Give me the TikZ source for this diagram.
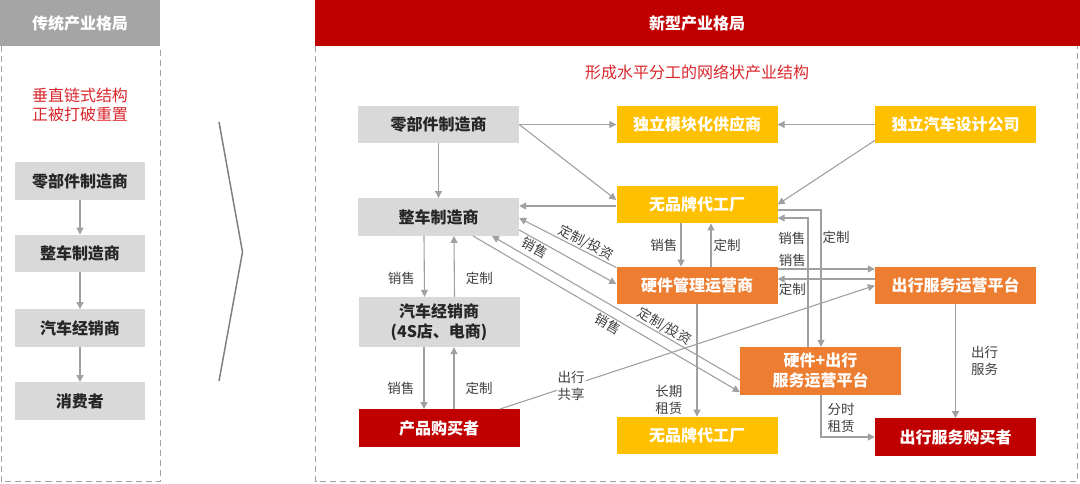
\documentclass[tikz,border=0pt]{standalone}
\usepackage{fontspec}
\setmainfont{Noto Sans CJK SC}
\usetikzlibrary{arrows.meta}
\usetikzlibrary{positioning}

\definecolor{hdgray}{HTML}{A5A5A5}
\definecolor{boxgray}{HTML}{D9D9D9}
\definecolor{boxyellow}{HTML}{FFC000}
\definecolor{boxorange}{HTML}{ED7D31}
\definecolor{boxred}{HTML}{C00000}
\definecolor{notered}{HTML}{D9262C}
\definecolor{linegray}{HTML}{A0A0A0}
\definecolor{boxtext}{HTML}{262626}
\definecolor{lbltext}{HTML}{404040}

\begin{document}
\begin{tikzpicture}[x=1pt,y=-1pt,
  box/.style={minimum width=161pt,minimum height=37.5pt,inner sep=0pt,align=center,font=\bfseries\fontsize{16}{20}\selectfont},
  graybox/.style={box,fill=boxgray,text=boxtext},
  yelbox/.style={box,fill=boxyellow,text=white},
  orgbox/.style={box,fill=boxorange,text=white},
  redbox/.style={box,fill=boxred,text=white},
  hdtext/.style={font=\bfseries\fontsize{16}{20}\selectfont,text=white},
  redtext/.style={font=\fontsize{16}{19}\selectfont,text=notered,align=center},
  lbl/.style={font=\fontsize{13.5}{17}\selectfont,text=lbltext,align=center,inner sep=1pt},
  arr/.style={draw=linegray,line width=1.1pt,-{Triangle[length=7pt,width=7pt]}},
  rarr/.style={draw=linegray,line width=1.1pt,{Triangle[length=7pt,width=7pt]}-},
  frame/.style={draw=linegray,line width=1pt,dash pattern=on 6pt off 4pt},
  chev/.style={draw=gray,line width=1.5pt}]
\useasboundingbox (0,0) rectangle (1080,483);

% traditional layout
\fill[hdgray] (0,0) rectangle (160,46);
\node[hdtext] (lhead) at (80,23) {传统产业格局};
\draw[frame] (1,46) -- (1,481.5) -- (160,481.5) -- (160,46);
\node[redtext] (lnote) at (80,105) {垂直链式结构\\正被打破重置};
\node[graybox,minimum width=130pt] (l1) at (80,181) {零部件制造商};
\node[graybox,minimum width=130pt] (l2) at (80,253.5) {整车制造商};
\node[graybox,minimum width=130pt] (l3) at (80,328) {汽车经销商};
\node[graybox,minimum width=130pt] (l4) at (80,401) {消费者};
\draw[arr] (l1) -- (l2);
\draw[arr] (l2) -- (l3);
\draw[arr] (l3) -- (l4);

\draw[chev] (219,122) -- (242.5,252) -- (219,381);

% new layout
\fill[boxred] (315,0) rectangle (1080,46);
\node[hdtext] (rhead) at (697,23) {新型产业格局};
\draw[frame] (315.5,46) -- (315.5,481.5) -- (1077,481.5) -- (1077,46);
\node[redtext] (rnote) at (697,72) {形成水平分工的网络状产业结构};

\node[graybox] (lj) at (438.5,124.5) {零部件制造商};
\node[graybox] (zc) at (438.5,217) {整车制造商};
\node[graybox,minimum height=50pt] (jx) at (439,322) {汽车经销商\\(4S店、电商)};
\node[redbox] (cp) at (439,428) {产品购买者};
\node[yelbox] (mk) at (697,124.5) {独立模块化供应商};
\node[yelbox] (sj) at (955.5,124.5) {独立汽车设计公司};
\node[yelbox] (dg1) at (697,204.5) {无品牌代工厂};
\node[orgbox] (yj) at (697,285.5) {硬件管理运营商};
\node[orgbox] (cx) at (955.5,285.5) {出行服务运营平台};
\node[orgbox,minimum height=48pt] (hc) at (820.5,371) {硬件+出行\\服务运营平台};
\node[yelbox] (dg2) at (697,435.5) {无品牌代工厂};
\node[redbox] (cg) at (955.5,437) {出行服务购买者};

\draw[arr] (lj) -- (mk);
\draw[arr] (lj.east) -- ([yshift=4.5pt]dg1.west);
\draw[arr] (sj) -- (mk);
\draw[arr] ([yshift=3pt]sj.south west) -- (dg1.east);
\draw[arr] ([yshift=-1.5pt]dg1.west) -- ([yshift=-1.5pt]dg1.west -| zc.east);
\draw[arr] (lj) -- (zc);

\draw[arr] ([xshift=-16pt]dg1.south) -- node[lbl,left=2pt] (s1) {销售} ([xshift=-16pt]yj.north);
\draw[arr] ([xshift=14pt]yj.north) -- node[lbl,right=1pt] (d1) {定制} ([xshift=14pt]dg1.south);
\draw[rarr] ([yshift=-1pt]zc.east) -- node[lbl,sloped,above,pos=0.65] (d2) {定制/投资} ([yshift=-1pt]yj.north west);
\draw[arr] ([yshift=-13pt]zc.east) -- node[lbl,sloped,below,pos=0.2] (s2) {销售} ([yshift=1.5pt]yj.west);
\draw[rarr] ([xshift=53.5pt]zc.south) -- node[lbl,sloped,above,pos=0.68] (d3) {定制/投资} ([yshift=-9pt]hc.west);
\draw[arr] ([xshift=34.5pt]zc.south) -- node[lbl,sloped,below,pos=0.52] (s3) {销售} ([yshift=-21pt]hc.west);

\draw[arr] ([yshift=16.5pt]yj.east) -- node[lbl,above=1pt,pos=0.15] (s4) {销售} ([yshift=16.5pt]cx.west);
\draw[rarr] ([yshift=6.5pt]yj.east) -- node[lbl,below=3pt,pos=0.15] (d4) {定制} ([yshift=6.5pt]cx.west);
\draw[arr] ([xshift=-12.5pt]hc.north) |- node[lbl,left=1pt,pos=0.42] (s5) {销售} ([yshift=-13.5pt]dg1.east);
\draw[arr] ([yshift=-5.5pt]dg1.east) -| node[lbl,right=0pt,pos=0.6] (d5) {定制} ([xshift=0.5pt]hc.north);

\draw[arr] ([xshift=61pt]cp.north) -- node[lbl,fill=white,pos=0.19] (cs) {出行\\共享} (cx.west);

\draw[arr] ([xshift=-14.5pt]zc.south) -- node[lbl,left=8pt,pos=0.69] (s6) {销售} ([xshift=-14.5pt]jx.north);
\draw[arr] ([xshift=15.5pt]jx.north) -- node[lbl,right=10pt,pos=0.31] (d6) {定制} ([xshift=15.5pt]zc.south);
\draw[arr] ([xshift=-15pt]jx.south) -- node[lbl,left=8pt,pos=0.66] (s7) {销售} ([xshift=-15pt]cp.north);
\draw[arr] ([xshift=15pt]cp.north) -- node[lbl,right=10pt,pos=0.34] (d7) {定制} ([xshift=15pt]jx.south);

\draw[arr] (yj) -- node[lbl,left=13pt,pos=0.85] (zl) {长期\\租赁} (dg2);
\draw[arr] ([xshift=0.5pt]hc.south) |- node[lbl,right=5pt,pos=0.27] (fs) {分时\\租赁} (cg.west);
\draw[arr] (cx) -- node[lbl,right=14pt] (cf) {出行\\服务} (cg);

\end{tikzpicture}
\end{document}
